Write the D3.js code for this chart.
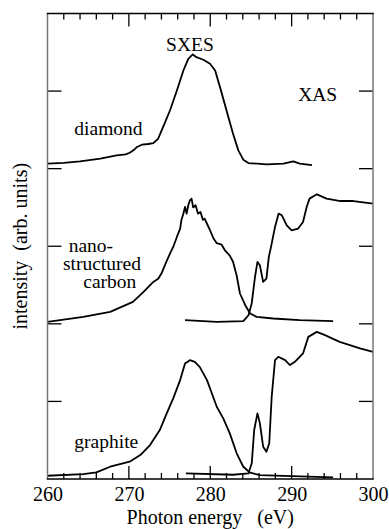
<!DOCTYPE html>
<html>
<head>
<meta charset="utf-8">
<script src="https://cdn.jsdelivr.net/npm/d3@7"></script>
<style>
  body { margin: 0; background: #fff; }
  svg { display: block; }
</style>
</head>
<body>
<svg id="chart" width="389" height="529"></svg>
<script>
// photon energy (eV) and intensity (arb. units, offset per sample)
const diamondSxes = [
  [260.0, 4.065], [262.0, 4.075], [264.0, 4.094], [266.5, 4.129], [268.5, 4.171],
  [269.6, 4.185], [270.1, 4.205], [270.6, 4.240], [271.0, 4.280], [271.6, 4.309],
  [272.4, 4.318], [273.0, 4.330], [273.6, 4.386], [274.2, 4.536], [275.05, 4.750],
  [275.9, 5.008], [276.7, 5.265], [277.3, 5.416], [277.85, 5.472], [278.3, 5.437],
  [279.15, 5.404], [279.97, 5.352], [280.6, 5.266], [281.2, 5.051], [282.0, 4.750],
  [282.8, 4.451], [283.45, 4.236], [284.06, 4.116], [284.68, 4.072], [286.9, 4.056],
  [289.0, 4.065], [289.8, 4.085], [290.2, 4.094], [291.0, 4.065], [292.5, 4.047]
];

const nanoSxes = [
  [260.0, 2.025], [264.4, 2.090], [267.7, 2.154], [270.5, 2.283], [271.8, 2.412],
  [273.0, 2.540], [273.6, 2.580], [274.0, 2.648], [274.6, 2.798], [275.05, 2.905],
  [275.45, 2.991], [275.9, 3.120], [276.3, 3.227], [276.45, 3.335], [276.7, 3.421],
  [276.9, 3.506], [277.1, 3.420], [277.3, 3.528], [277.5, 3.592], [277.7, 3.614],
  [277.9, 3.500], [278.2, 3.528], [278.5, 3.420], [278.8, 3.442], [279.1, 3.340],
  [279.3, 3.356], [279.6, 3.290], [280.0, 3.200], [280.4, 3.100], [280.8, 3.040],
  [281.4, 3.020], [281.8, 2.948], [282.4, 2.880], [282.8, 2.800], [283.25, 2.620],
  [283.65, 2.391], [284.3, 2.240], [284.9, 2.133], [285.7, 2.090], [287.75, 2.069],
  [291.0, 2.047], [295.1, 2.034]
];

const nanoXas = [
  [276.9, 2.047], [280.8, 2.025], [284.06, 2.034], [284.7, 2.111], [285.1, 2.266],
  [285.5, 2.605], [285.8, 2.798], [286.1, 2.755], [286.5, 2.540], [286.9, 2.584],
  [287.2, 2.862], [287.55, 3.034], [287.96, 3.249], [288.4, 3.421], [288.8, 3.399],
  [289.4, 3.270], [290.0, 3.206], [290.8, 3.228], [291.4, 3.313], [291.85, 3.506],
  [292.2, 3.614], [293.1, 3.669], [294.3, 3.614], [296.0, 3.583], [297.6, 3.583],
  [300.0, 3.550]
];

const graphiteSxes = [
  [260.0, 0.042], [264.4, 0.064], [266.0, 0.085], [267.7, 0.158], [270.1, 0.223],
  [271.4, 0.309], [272.6, 0.438], [273.8, 0.631], [274.65, 0.846], [275.45, 1.039],
  [276.3, 1.275], [276.9, 1.490], [277.5, 1.532], [278.1, 1.510], [278.7, 1.446],
  [279.6, 1.275], [280.8, 0.931], [281.6, 0.781], [282.4, 0.588], [283.25, 0.331],
  [284.06, 0.158], [284.9, 0.081], [286.1, 0.051], [289.0, 0.039], [295.1, 0.022]
];

const graphiteXas = [
  [277.0, 0.073], [282.8, 0.055], [284.7, 0.073], [285.1, 0.202], [285.4, 0.631],
  [285.8, 0.846], [286.1, 0.717], [286.5, 0.416], [286.9, 0.351], [287.25, 0.460],
  [287.55, 1.060], [287.96, 1.532], [288.36, 1.575], [289.2, 1.532], [289.8, 1.468],
  [290.4, 1.510], [291.4, 1.618], [292.05, 1.832], [293.1, 1.896], [294.1, 1.854],
  [295.9, 1.768], [298.4, 1.683], [300.0, 1.639]
];

const xMajor = [260, 270, 280, 290, 300];
const xMinor = d3.range(260, 301, 2);
const yMajor = [1, 2, 3, 4, 5];

const labels = [
  {text: "SXES", x: 277.5, y: 5.52, anchor: "middle"},
  {text: "XAS", x: 293.2, y: 4.87, anchor: "middle"},
  {text: "diamond", x: 263.3, y: 4.44, anchor: "start"},
  {text: "nano-", x: 262.6, y: 2.93, anchor: "start"},
  {text: "structured", x: 261.9, y: 2.70, anchor: "start"},
  {text: "carbon", x: 264.4, y: 2.46, anchor: "start"},
  {text: "graphite", x: 263.3, y: 0.40, anchor: "start"}
];

const FONT = "'Liberation Serif', 'Times New Roman', Times, 'DejaVu Serif', serif";

const margin = {top: 13.5, right: 16, bottom: 50, left: 47.5};
const width = 389, height = 529;

const svg = d3.select("#chart");

const x = d3.scaleLinear().domain([260, 300]).range([margin.left, width - margin.right]);
const y = d3.scaleLinear().domain([0, 6]).range([height - margin.bottom, margin.top]);

const line = d3.line().x(d => x(d[0])).y(d => y(d[1]));

// curves
svg.append("g")
  .attr("fill", "none")
  .attr("stroke", "#000")
  .attr("stroke-width", 1.8)
  .attr("stroke-linejoin", "round")
  .selectAll("path")
  .data([diamondSxes, nanoSxes, nanoXas, graphiteSxes, graphiteXas])
  .join("path")
  .attr("d", line);

// axes: ticks point inward
const minorOnly = xMinor.filter(v => !xMajor.includes(v));

const bottom = d3.axisBottom(x).tickValues(xMajor).tickSize(0).tickPadding(8);
const gx = svg.append("g")
  .attr("transform", `translate(0,${y(0)})`)
  .call(bottom)
  .attr("font-family", FONT)
  .attr("font-size", 20);
gx.select(".domain").remove();
gx.selectAll("text").attr("font-family", FONT).attr("font-size", 20).attr("fill", "#000").attr("dy", "0.72em");

const ticks = svg.append("g").attr("stroke", "#000").attr("stroke-width", 1.3);

[y(0), y(6)].forEach((y0, i) => {
  const dir = i === 0 ? -1 : 1;
  ticks.append("g").selectAll("line")
    .data(minorOnly)
    .join("line")
    .attr("x1", d => x(d)).attr("x2", d => x(d))
    .attr("y1", y0).attr("y2", y0 + dir * 6);
  ticks.append("g").selectAll("line")
    .data(xMajor.slice(1, -1))
    .join("line")
    .attr("x1", d => x(d)).attr("x2", d => x(d))
    .attr("y1", y0).attr("y2", y0 + dir * 13);
});

[x(260), x(300)].forEach((x0, i) => {
  const dir = i === 0 ? 1 : -1;
  ticks.append("g").selectAll("line")
    .data(yMajor)
    .join("line")
    .attr("x1", x0).attr("x2", x0 + dir * 14)
    .attr("y1", d => y(d)).attr("y2", d => y(d));
});

// frame: grey sides, black top and bottom
const frame = svg.append("g").attr("stroke-width", 1.5);
[x(260), x(300)].forEach(x0 => {
  frame.append("line")
    .attr("x1", x0).attr("x2", x0)
    .attr("y1", y(6)).attr("y2", y(0))
    .attr("stroke", "#777");
});
[y(0), y(6)].forEach(y0 => {
  frame.append("line")
    .attr("x1", x(260) - 0.75).attr("x2", x(300) + 0.75)
    .attr("y1", y0).attr("y2", y0)
    .attr("stroke", "#000");
});

// text labels
svg.append("g").selectAll("text")
  .data(labels)
  .join("text")
  .attr("x", d => x(d.x)).attr("y", d => y(d.y))
  .attr("text-anchor", d => d.anchor)
  .attr("font-family", FONT)
  .attr("font-size", 19.5)
  .text(d => d.text);

svg.append("text")
  .attr("x", x(280)).attr("y", 524)
  .attr("text-anchor", "middle")
  .attr("font-family", FONT)
  .attr("font-size", 20)
  .style("white-space", "pre")
  .text("Photon energy   (eV)");

svg.append("text")
  .attr("transform", `translate(27,${(y(0) + y(6)) / 2}) rotate(-90)`)
  .attr("text-anchor", "middle")
  .attr("font-family", FONT)
  .attr("font-size", 20)
  .style("white-space", "pre")
  .text("intensity  (arb. units)");
</script>
</body>
</html>
